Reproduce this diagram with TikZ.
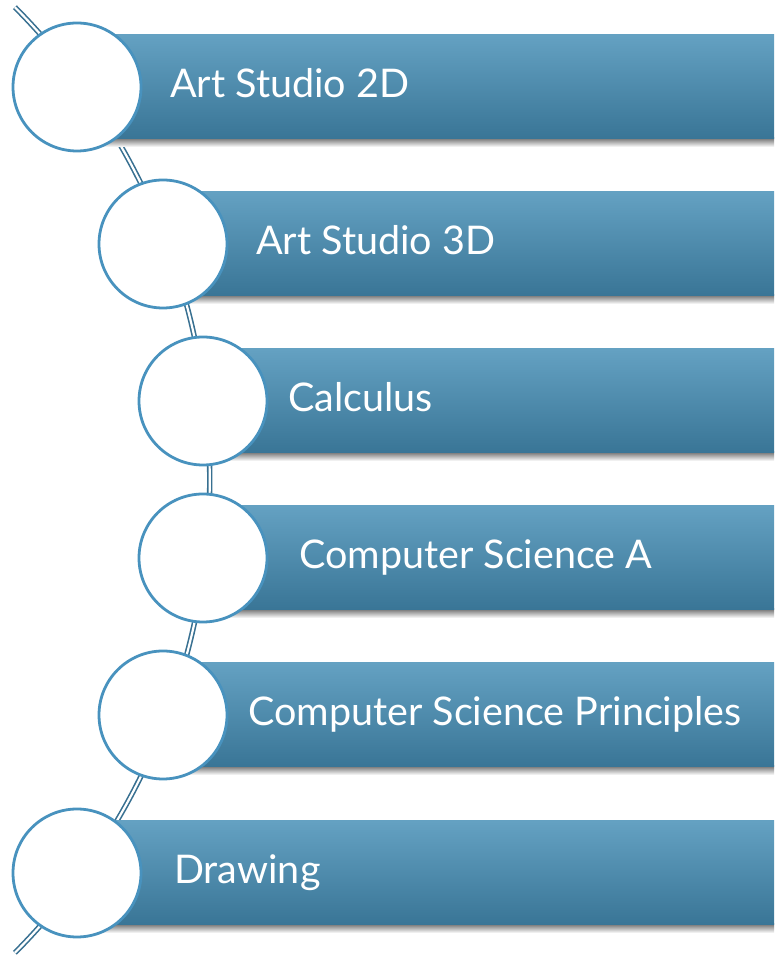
\documentclass[tikz,border=0pt]{standalone}
\usepackage{fontspec}
\setmainfont{Lato}
\definecolor{bartop}{RGB}{100,161,194}
\definecolor{barbot}{RGB}{57,117,150}
\definecolor{ringc}{RGB}{72,146,190}
\definecolor{linec}{RGB}{56,112,145}
\begin{document}
\begin{tikzpicture}[x=1pt,y=1pt,
  barbox/.style={top color=bartop,bottom color=barbot,draw=none},
  shadowbox/.style={top color=black!55,bottom color=white,draw=none},
  ring/.style={circle,draw=ringc,line width=2.8pt,fill=white,minimum size=128pt,inner sep=0pt},
  lbl/.style={anchor=base west,inner sep=0pt,text=white,font=\fontsize{39.5}{44}\selectfont}]
\useasboundingbox (0,0) rectangle (774,955);
% connecting double line
\coordinate (arcc) at (-461.2,475);
\draw[linec,line width=1.6pt,double=white,double distance=2.2pt] (arcc) ++(44.8:671) coordinate (top) arc[start angle=44.8,end angle=-44.8,radius=671] coordinate (bot);
% bars: tops 35,192,349,506,663,821 ; height 104
\foreach \t/\cx in {35/77,192/163,349/203,506/203,663/163,821/77}{
  \pgfmathsetmacro{\yb}{955-\t-104}
  \pgfmathsetmacro{\yt}{955-\t}
  \pgfmathsetmacro{\xl}{\cx+20}
  \shade[shadowbox] (\xl,\yb-8) rectangle (774,\yb+1);
  \shade[barbox] (\xl,\yb) rectangle (774,\yt);
}
% circles
\node[ring] (c1) at (77,868) {};
\node[ring] (c2) at (163,711) {};
\node[ring] (c3) at (203,554) {};
\node[ring] (c4) at (203,397) {};
\node[ring] (c5) at (163,240) {};
\node[ring] (c6) at (77,82) {};
% labels
\node[lbl] (t1) at (170,857) {Art Studio 2D};
\node[lbl] (t2) at (256,700) {Art Studio 3D};
\node[lbl] (t3) at (288,543) {Calculus};
\node[lbl] (t4) at (299,386) {Computer Science A};
\node[lbl] (t5) at (248,229) {Computer Science Principles};
\node[lbl] (t6) at (174,71) {Drawing};
\end{tikzpicture}
\end{document}
